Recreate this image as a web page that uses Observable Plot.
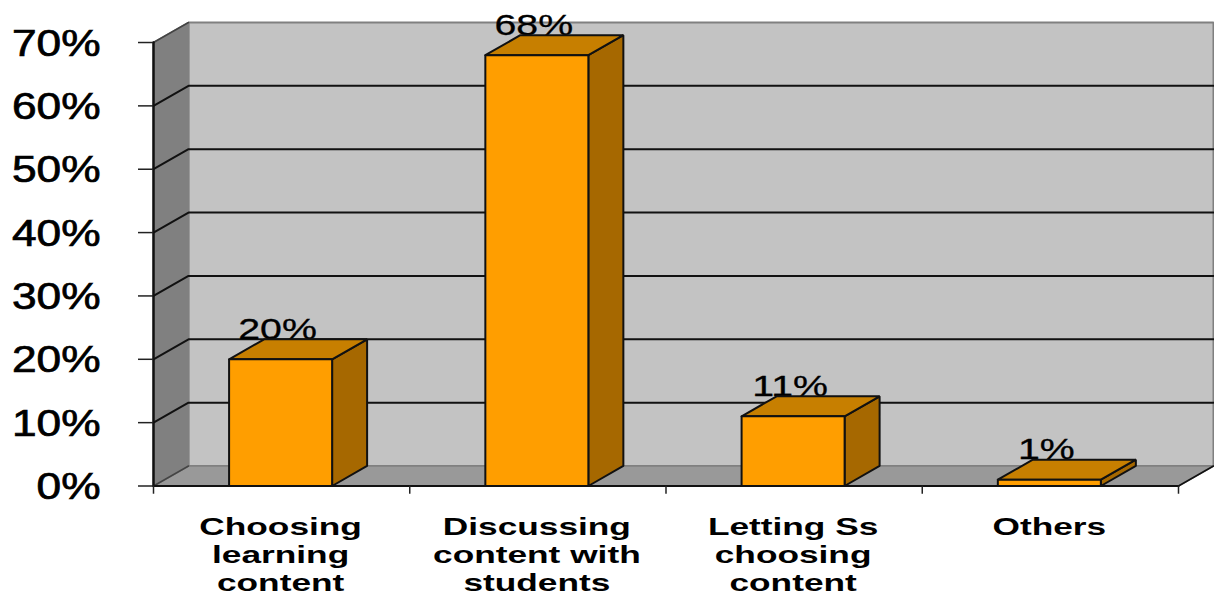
<!DOCTYPE html>
<html>
<head>
<meta charset="utf-8">
<script src="https://cdn.jsdelivr.net/npm/d3@7"></script>
<script src="https://cdn.jsdelivr.net/npm/@observablehq/plot@0.6"></script>
<style>
  html, body { margin: 0; padding: 0; background: #fff; overflow: hidden; }
  svg { display: block; overflow: visible; }
</style>
</head>
<body>
<div id="chart"></div>
<script>
// Survey shares per answer
const categories = [
  "Choosing\nlearning\ncontent",
  "Discussing\ncontent with\nstudents",
  "Letting Ss\nchoosing\ncontent",
  "Others"
];
const values = [20, 68, 11, 1];
const percentTicks = [0, 10, 20, 30, 40, 50, 60, 70];
const slotEdges = [0, 1, 2, 3, 4];

// Pseudo-3D extrusion, in scale units
const depthX = 0.1366;
const depthY = 3.16;
const barWidth = 0.402;
const barCentre = 0.496;
const topPercent = 70;
const slots = 4;
const tickDrop = 1.3;

const colors = {
  wall: "#c3c3c3",
  side: "#808080",
  floor: "#999999",
  edge: "#808080",
  barFront: "#ff9e00",
  barSide: "#a66800",
  barTop: "#c77f00"
};

// Closed polygon drawn as a filled line
const poly = (pts, fill, stroke, strokeWidth) =>
  Plot.line([...pts, pts[0]].map(([x, y]) => ({x, y})), {
    x: "x", y: "y", fill, stroke, strokeWidth, strokeLinejoin: "miter", curve: "linear"
  });
const segment = (pts, stroke, strokeWidth) =>
  Plot.line(pts.map(([x, y]) => ({x, y})), {x: "x", y: "y", stroke, strokeWidth, curve: "linear"});

const room = [
  poly([[depthX, depthY], [slots + depthX, depthY], [slots + depthX, topPercent + depthY], [depthX, topPercent + depthY]],
       colors.wall, colors.edge, 2),
  poly([[0, 0], [slots, 0], [slots + depthX, depthY], [depthX, depthY]], colors.floor, colors.edge, 1.5),
  poly([[0, 0], [depthX, depthY], [depthX, topPercent + depthY], [0, topPercent]], colors.side, colors.edge, 1.5)
];

// Gridlines run across the back wall and fold down the side wall
const grid = percentTicks.slice(1, -1).map(p =>
  segment([[0, p], [depthX, p + depthY], [slots + depthX, p + depthY]], "#111", 2)
);

const bars = values.flatMap((v, i) => {
  const x0 = i + barCentre - barWidth / 2;
  const x1 = i + barCentre + barWidth / 2;
  return [
    poly([[x1, 0], [x1 + depthX, depthY], [x1 + depthX, v + depthY], [x1, v]], colors.barSide, "#111", 2),
    poly([[x0, v], [x1, v], [x1 + depthX, v + depthY], [x0 + depthX, v + depthY]], colors.barTop, "#111", 2),
    poly([[x0, 0], [x1, 0], [x1, v], [x0, v]], colors.barFront, "#111", 2)
  ];
});

const chart = Plot.plot({
  width: 1214,
  height: 596,
  marginLeft: 153,
  marginRight: 1,
  marginTop: 22,
  marginBottom: 110.5,
  style: {fontFamily: "'Liberation Sans', Arial, sans-serif", background: "#fff", overflow: "visible"},
  x: {type: "linear", domain: [0, slots + depthX], axis: null},
  y: {type: "linear", domain: [0, topPercent + depthY]},
  marks: [
    ...room,
    ...grid,
    segment([[0, topPercent], [depthX, topPercent + depthY]], "#444", 1.5),
    segment([[0, 0], [depthX, depthY]], "#444", 1.5),
    segment([[slots, 0], [slots + depthX, depthY]], "#111", 1.5),
    // Value labels sit behind the bars, on the back edge of each top face
    Plot.text(values, {
      x: (d, i) => i + barCentre,
      y: d => d + depthY,
      text: d => `${d}%`,
      dx: -3,
      dy: -0.5,
      lineAnchor: "bottom",
      fontSize: 30,
      fill: "#000",
      stroke: "#000",
      strokeWidth: 0.3,
      className: "value-label"
    }),
    ...bars,
    segment([[0, 0], [slots, 0]], "#111", 2),
    segment([[0, 0], [0, topPercent]], "#111", 2.5),
    Plot.axisY(percentTicks, {
      anchor: "left",
      label: null,
      tickSize: 15,
      tickPadding: 38,
      tickFormat: d => `${d}%`,
      fontSize: 36,
      color: "#000",
      stroke: "#222",
      strokeWidth: 1.5,
      className: "percent-axis"
    }),
    Plot.ruleX(slotEdges, {
      x: d => d,
      y1: 0,
      y2: -tickDrop,
      stroke: "#222",
      strokeWidth: 1.5,
      className: "slot-tick"
    }),
    Plot.text(categories, {
      x: (d, i) => i + barCentre,
      y: () => 0,
      text: d => d,
      dy: 28.7,
      lineAnchor: "top",
      lineHeight: 1.18,
      fontSize: 24,
      fontWeight: 700,
      fill: "#000",
      className: "category-label"
    })
  ]
});

document.getElementById("chart").append(chart);

// Widen the lettering, keeping each label anchored where the scale put it
const widen = (selector, factor) =>
  d3.select(chart).selectAll(`${selector} text`).attr("transform", function () {
    return `${this.getAttribute("transform") || ""} scale(${factor},1)`;
  });
widen(".value-label", 1.31);
widen(".percent-axis", 1.23);
widen(".category-label", 1.47);

// The percent labels carry a slightly heavier line and sit just under their ticks
d3.select(chart).selectAll(".percent-axis text")
  .attr("stroke", "#000")
  .attr("stroke-width", 0.7)
  .attr("dy", 1.5);
</script>
</body>
</html>
